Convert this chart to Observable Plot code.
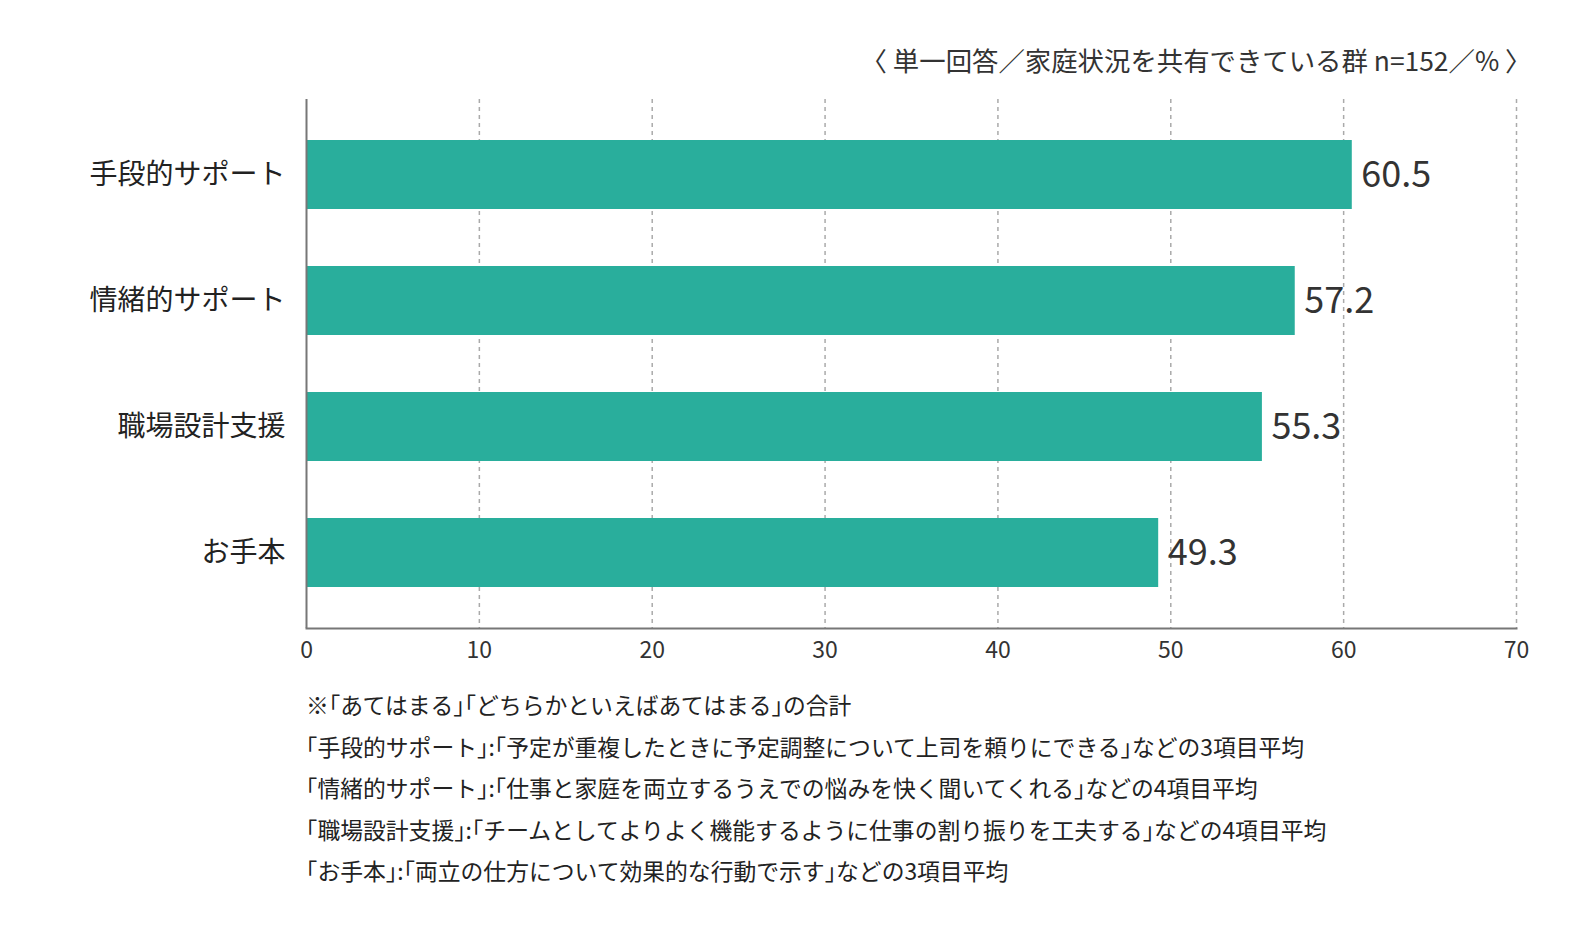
<!DOCTYPE html>
<html>
<head>
<meta charset="utf-8">
<script src="https://cdn.jsdelivr.net/npm/d3@7"></script>
<script src="https://cdn.jsdelivr.net/npm/@observablehq/plot@0.6"></script>
<style>
  html, body { margin: 0; padding: 0; overflow: hidden; background: #fff; font-family: "Noto Sans CJK JP", "Noto Sans", sans-serif; }
  #chart svg { display: block; max-width: none; }
  #notes { margin: 12px 0 0 306px; font-size: 22.8px; line-height: 41.5px; color: #222; white-space: nowrap; }
  #notes .h { font-feature-settings: "halt"; }
</style>
</head>
<body>
<div id="chart"></div>
<div id="notes"></div>
<script>
const categories = ["手段的サポート", "情緒的サポート", "職場設計支援", "お手本"];
const values = [60.5, 57.2, 55.3, 49.3];
const xTicks = [0, 10, 20, 30, 40, 50, 60, 70];
const noteText = "〈 単一回答／家庭状況を共有できている群 n=152／% 〉";
const footnotes = [
  "※「あてはまる」「どちらかといえばあてはまる」の合計",
  "「手段的サポート」:「予定が重複したときに予定調整について上司を頼りにできる」などの3項目平均",
  "「情緒的サポート」:「仕事と家庭を両立するうえでの悩みを快く聞いてくれる」などの4項目平均",
  "「職場設計支援」:「チームとしてよりよく機能するように仕事の割り振りを工夫する」などの4項目平均",
  "「お手本」:「両立の仕方について効果的な行動で示す」などの3項目平均"
];

const data = categories.map((c, i) => ({cat: c, value: values[i]}));

const plot = Plot.plot({
  width: 1580,
  height: 672,
  marginTop: 99,
  marginBottom: 44,
  marginLeft: 306,
  marginRight: 64,
  style: {fontFamily: '"Noto Sans CJK JP", "Noto Sans", sans-serif', color: "#333", background: "#fff"},
  x: {domain: [0, 70], ticks: xTicks},
  y: {domain: categories, paddingInner: 0.454, paddingOuter: 0.32, label: null},
  marks: [
    Plot.gridX(xTicks.filter(t => t > 0), {stroke: "#aaa", strokeOpacity: 1, strokeDasharray: "4,4", strokeWidth: 1.5}),
    Plot.barX(data, {x: "value", y: "cat", fill: "#29ae9c"}),
    Plot.text(data, {x: "value", y: "cat", text: d => d.value.toFixed(1), textAnchor: "start", dx: 9, fontSize: 36, fill: "#333"}),
    Plot.ruleX([0], {stroke: "#777", strokeWidth: 2}),
    Plot.frame({anchor: "bottom", stroke: "#777", strokeWidth: 2}),
    Plot.axisX({ticks: xTicks, tickSize: 0, tickPadding: 13, fontSize: 23, label: null, color: "#333"}),
    Plot.axisY({tickSize: 0, tickPadding: 21, fontSize: 28, label: null, color: "#222"}),
    Plot.text([noteText], {frameAnchor: "top-right", textAnchor: "end", lineAnchor: "middle", dy: -37, dx: 15, fontSize: 26.4, fill: "#333"})
  ]
});
document.getElementById("chart").appendChild(plot);

const notes = document.getElementById("notes");
footnotes.forEach(t => {
  const d = document.createElement("div");
  for (const part of t.split(/([「」])/)) {
    if (!part) continue;
    if (part === "「" || part === "」") {
      const s = document.createElement("span");
      s.className = "h";
      s.textContent = part;
      d.appendChild(s);
    } else {
      d.appendChild(document.createTextNode(part));
    }
  }
  notes.appendChild(d);
});
</script>
</body>
</html>
